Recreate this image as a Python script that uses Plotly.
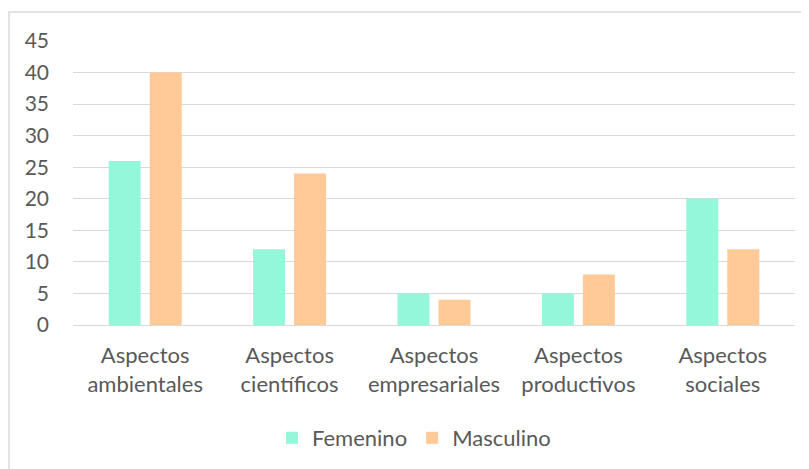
import plotly.graph_objects as go

categories = ["Aspectos ambientales", "Aspectos científicos", "Aspectos empresariales",
              "Aspectos productivos", "Aspectos sociales"]
tick_labels = ["Aspectos<br>ambientales", "Aspectos<br>científicos", "Aspectos<br>empresariales",
               "Aspectos<br>productivos", "Aspectos<br>sociales"]
femenino = [26, 12, 5, 5, 20]
masculino = [40, 24, 4, 8, 12]
y_ticks = [0, 5, 10, 15, 20, 25, 30, 35, 40, 45]

FONT = "Lato"
TXT = "#595959"

fig = go.Figure()
fig.add_trace(go.Bar(name="Femenino", x=categories, y=femenino, marker_color="#95F7D9",
                     marker_line_width=0))
fig.add_trace(go.Bar(name="Masculino", x=categories, y=masculino, marker_color="#FFCA97",
                     marker_line_width=0))

# page body has an 8px offset; positions below are in figure pixels
L, R, T, B = 65, 22, 33, 152
W, H = 809, 469
pw, ph = W - L - R, H - T - B

fig.update_layout(
    width=W, height=H,
    margin=dict(l=L, r=R, t=T, b=B, autoexpand=False),
    paper_bgcolor="white", plot_bgcolor="white",
    barmode="group", bargap=0.432, bargroupgap=0.22,
    font=dict(family=FONT, size=22, color=TXT),
    showlegend=True,
    legend=dict(orientation="h", xref="container", yref="container",
                x=406 / W, xanchor="center", y=1 - 430 / H, yanchor="middle",
                font=dict(family=FONT, size=22, color=TXT),
                itemwidth=30, traceorder="normal"),
    xaxis=dict(tickmode="array", tickvals=categories, ticktext=tick_labels,
               showgrid=False, showline=False, ticks="", ticklabelstandoff=15,
               automargin=False,
               tickfont=dict(family=FONT, size=22, color=TXT)),
    yaxis=dict(range=[0, 45], tickvals=y_ticks, showgrid=True, gridcolor="#D9D9D9",
               gridwidth=1, zeroline=True, zerolinecolor="#D9D9D9", zerolinewidth=1,
               showline=False, ticks="", ticklabelstandoff=23, automargin=False,
               tickfont=dict(family=FONT, size=21, color=TXT)),
    shapes=[dict(type="rect", xref="paper", yref="paper",
                 x0=(1 - L) / pw, x1=(812 - L) / pw,
                 y0=(H - B - 480) / ph, y1=(H - B - 4) / ph,
                 line=dict(color="#D9D9D9", width=1.5), layer="below")],
)

fig.write_html("out.html")
